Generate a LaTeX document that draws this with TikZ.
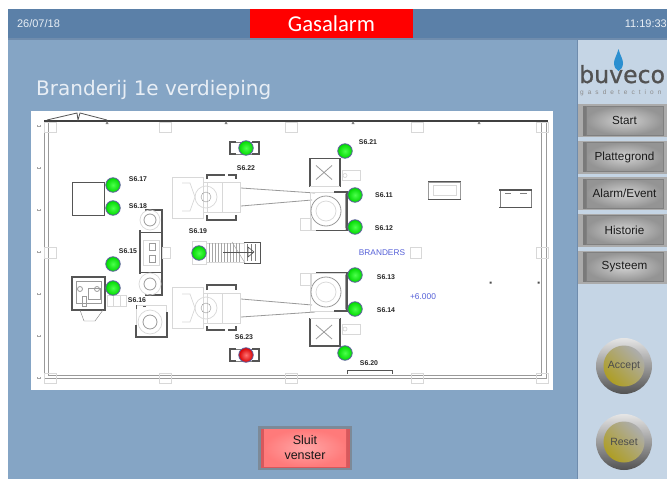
\documentclass[tikz,border=0pt]{standalone}
\usepackage{fontspec}
\setmainfont{Liberation Sans}
\newfontfamily\titlefont{DejaVu Sans}
\newfontfamily\alarmfont{Carlito}
\newfontfamily\logofont[FakeBold=0.8]{DejaVu Sans}
\usepackage{xcolor}
\usetikzlibrary{shapes,arrows,positioning}

\definecolor{screenblue}{HTML}{85A5C5}
\definecolor{headerblue}{HTML}{5B80A8}
\definecolor{headerline}{HTML}{6F8CAD}
\definecolor{panelblue}{HTML}{C5D5E5}
\definecolor{planblue}{HTML}{5560D8}
\definecolor{wallgrey}{HTML}{9A9A9A}
\definecolor{lightgrey}{HTML}{D8D8D8}
\definecolor{darkgrey}{HTML}{555555}
\definecolor{olive}{HTML}{AE9E24}
\definecolor{screentext}{HTML}{E8EEF5}
\definecolor{dropblue}{HTML}{2B8FD0}
\definecolor{closeframe}{HTML}{7C8A98}
\definecolor{closeband}{HTML}{D8585C}

\tikzset{
  menubtn/.style={draw=black!50, line width=1pt, inner color=black!18, outer color=black!42,
    minimum width=77pt, minimum height=29pt, inner sep=0pt, text=black!90,
    font=\fontsize{11.7}{13}\selectfont},
  roundbtn/.style={circle, minimum size=56pt, inner sep=0pt, top color=black!10, middle color=black!30, bottom color=black!68},
  olivebtn/.style={circle, minimum size=41pt, inner sep=0pt, left color=olive, right color=black!32,
    shading angle=135, text=black!70, font=\fontsize{10.5}{12}\selectfont},
  sensor/.style={circle, minimum size=14.5pt, inner sep=0pt, draw=blue!25!gray, line width=.8pt,
    inner color=green!70!white, outer color=green!85!black},
  alarmsensor/.style={sensor, inner color=red!55!white, outer color=red!85!black},
  tag/.style={font=\bfseries\fontsize{6.9}{8}\selectfont, text=black!85},
  wall/.style={draw=wallgrey, line width=.8pt},
  dark/.style={draw=darkgrey, line width=1.2pt},
  faint/.style={draw=lightgrey, line width=.7pt},
}

\begin{document}
\begin{tikzpicture}[x=1pt, y=-1pt]
\useasboundingbox (0,0) rectangle (667,479);
\fill[white] (0,0) rectangle (667,479);

% screen
\fill[screenblue] (8,9) rectangle (667,479);
\fill[headerblue] (8,9) rectangle (667,38);
\fill[headerline] (8,38) rectangle (667,40);
\fill[panelblue] (577,40) rectangle (667,479);
\draw[headerline] (577,40) -- (577,479);
\fill[red] (250,9) rectangle (413,38);

\node (date) [text=screentext, font=\fontsize{11}{13}\selectfont] at (38.5,24) {26/07/18};
\node (alarm) [text=white, font=\alarmfont\fontsize{22.7}{26}\selectfont] at (331.5,23.5) {Gasalarm};
\node (clock) [text=screentext, font=\fontsize{11}{13}\selectfont, anchor=east, inner xsep=0pt] at (667,24) {11:19:33};
\node (title) [text=screentext, font=\titlefont\fontsize{20}{24}\selectfont, anchor=west, inner xsep=0pt] at (36,89.5) {Branderij 1e verdieping};

% logo
\fill[dropblue] (618.5,49) .. controls (617,55) and (614,59) .. (614,63) .. controls (614,67) and (616,70) .. (618.5,71) .. controls (621,70) and (623,67) .. (623,63) .. controls (623,59) and (620,55) .. (618.5,49);
\node (logo) [text=black!68, font=\logofont\fontsize{23.6}{26}\selectfont, anchor=base west, inner sep=0pt] at (579,83) {buveco};
\node (logosub) [text=black!45, font=\addfontfeatures{LetterSpace=62}\fontsize{6.5}{7}\selectfont, anchor=base west, inner sep=0pt] at (580,94.5) {gasdetection};

% menu
\foreach \name/\py/\txt in {start/120.5/Start, plan/157/Plattegrond, event/193.5/Alarm\slash Event, hist/230/Historie, sys/267/Systeem} {
  \fill[black!33] (578,\py-16.5) rectangle (667,\py+16.5);
  \fill[black!52] (583,\py-15) rectangle (586,\py+15);
  \node (\name) [menubtn] at (624.5,\py) {\txt};
}

% round buttons
\node (acceptring) [roundbtn] at (624,366) {};
\node (accept) [olivebtn] at (624,366) {Accept};
\node (resetring) [roundbtn] at (624,442) {};
\node (reset) [olivebtn] at (624,442) {Reset};

% close button
\fill[closeframe] (258,426) rectangle (352,470);
\fill[closeband] (260.5,428.5) rectangle (349.5,467.5);
\node (sluit) [inner color=red!35!white, outer color=red!52!white, minimum width=82pt, minimum height=37pt, align=center, inner sep=0pt,
  text=black!90, font=\fontsize{12.5}{15}\selectfont] at (305,448) {Sluit\\venster};

% plan
\fill[white] (31,111) rectangle (553,390);
\draw[wall] (44,122) -- (44,378) -- (546,378) -- (546,122);
\draw[wall] (48,122) -- (48,375) -- (541,375) -- (541,122);
\draw[black!75, line width=1.2pt] (44,121) -- (548,121);
\draw[darkgrey, line width=.8pt] (47,120) -- (77,113) -- (78,120) -- (80,113) -- (107,120);

\foreach \px in {50,165,291,417,542} {
  \draw[faint] (\px-6,122) rectangle (\px+6,132);
  \draw[faint] (\px-6,373) rectangle (\px+6,383);
}
\draw[faint] (44,247) rectangle (56,258);
\draw[faint] (536,247) rectangle (548,258);
\foreach \py in {126,168,210,252,294,336,378} {
  \draw[gray!70] (37,\py-1) -- (37,\py+1) (40,\py-1) -- (40,\py+1) (37,\py) -- (40,\py);
}
\foreach \px in {107,226,353,479} {
  \fill[gray] (\px-1.5,124) -- (\px+1.5,124) -- (\px,121) -- cycle;
}

% burners
\foreach \by/\ys in {197/1,308/-1} {
  \begin{scope}[shift={(0,\by)}, yscale=\ys]
    \draw[faint] (172,-20) rectangle (203,21);
    \draw[faint] (203,-15) rectangle (240,15);
    \draw[faint] (207,-15) -- (207,15) (222,-15) -- (222,15);
    \draw[faint] (206,0) circle (11);
    \draw[lightgrey!70!black] (206,0) circle (5);
    \draw[faint] (182,-14) -- (190,-14) -- (195,0) -- (190,14) -- (182,14);
    \draw[dark] (207,-18) -- (207,-22) -- (225,-22) (228,-22) -- (236,-22) -- (236,-18);
    \draw[dark] (207,18) -- (207,23) -- (236,23) -- (236,18);
    \draw[wall] (241,-9) -- (315,-4);
    \draw[wall] (241,9) -- (312,3);
  \end{scope}
}

% fans and units
\foreach \fy/\ys in {211/1,292/-1} {
  \begin{scope}[shift={(0,\fy)}, yscale=\ys]
    \draw[faint] (300,7) rectangle (311,19);
    \draw[faint] (310,-19) rectangle (345,19);
    \draw[dark] (316,19.5) -- (347,19.5) -- (347,-19) -- (334,-19);
    \draw[wall] (345,-17) -- (345,17);
    \draw[wall] (326,0) circle (15);
    \draw[faint] (326,0) circle (10);
  \end{scope}
}
\foreach \uy/\ys in {172.5/1,332/-1} {
  \begin{scope}[shift={(0,\uy)}, yscale=\ys]
    \draw[darkgrey, line width=1.1pt] (310,14) -- (310,-14) -- (340,-14) -- (340,14);
    \draw[wall] (316,-7) -- (332,7) (316,7) -- (332,-7);
    \draw[faint] (310,14) -- (340,14);
    \draw[faint] (342,-2) rectangle (360,8);
    \draw[faint] (345,3) circle (2);
  \end{scope}
}

% left machines
\draw[darkgrey, line width=.9pt] (72,182) rectangle (104,215);
\draw[dark] (72,277) rectangle (105,310);
\draw[wall] (76,281) rectangle (101,303) (88,288) rectangle (100,299);
\draw[wall] (80,289) circle (2.5) (97,289) circle (2.5);
\draw[wall] (82,296) rectangle (86,306);
\draw[gray] (80,310) -- (84,321) -- (95,321) -- (103,310);
\draw[faint] (107,295) rectangle (126,306) (113,295) -- (113,306) (120,295) -- (120,306);

% rack
\draw[dark] (145,210) -- (162,210) -- (162,295) -- (145,295);
\draw[dark] (140,230) -- (140,274);
\draw[darkgrey, line width=.8pt] (140,232) -- (162,232) (140,272) -- (162,272);
\draw[faint] (150,220) circle (10) (150,284) circle (11);
\draw[wall] (150,220) circle (6) (150,284) circle (6);
\draw[faint] (143,240) rectangle (159,265);
\draw[wall] (149,243) rectangle (155,250) (149,255) rectangle (155,262);
\draw[faint] (162,247) rectangle (170,258);

% lower fan
\draw[faint] (136,305) rectangle (166,336);
\draw[dark] (136,325) -- (136,337) -- (167,337) -- (167,312);
\draw[faint] (150,322) circle (12);
\draw[wall] (150,322) circle (7);
\draw[darkgrey] (136,305) -- (136,309) (143,306) -- (146,306);

% stairs
\draw[faint] (192,241) rectangle (206,264);
\draw[faint] (206,243) rectangle (244,262);
\foreach \px in {209,212,...,239} {
  \draw[gray!70, line width=.5pt] (\px,243) -- (\px,262);
}
\draw[gray!70, line width=.5pt] (232,242) -- (245,263);
\draw[darkgrey, line width=.9pt] (244,242) -- (260,242) -- (260,263) -- (244,263);
\draw[gray, line width=.5pt] (247,244) -- (247,261) (251,244) -- (251,261) (255,244) -- (255,261);
\draw[darkgrey, line width=.6pt] (223,252) -- (253,252);
\draw[darkgrey, line width=.6pt] (248,247) -- (254,252) -- (248,257) -- cycle;

% holders
\foreach \hy in {148,355} {
  \draw[gray, line width=.6pt] (230,\hy-6) rectangle (259,\hy+6);
  \draw[dark] (236,\hy-6) -- (230,\hy-6) -- (230,\hy+6) -- (236,\hy+6);
  \draw[dark] (252,\hy-6) -- (259,\hy-6) -- (259,\hy+6) -- (252,\hy+6);
}

% right units
\draw[wall] (428,182) rectangle (460,199);
\draw[darkgrey, line width=.9pt] (428,181) -- (461,181) (428,199) -- (461,199);
\draw[faint] (433,185) rectangle (456,195);
\draw[gray] (500,190) rectangle (531,207);
\draw[darkgrey, line width=1.1pt] (499,190) -- (532,190) (499,207.5) -- (532,207.5);
\draw[gray] (505,193) -- (511,193) (520,193) -- (527,193);
\draw[darkgrey, line width=.7pt] (347,374) -- (347,370.5) -- (392,370.5) -- (392,374);
\fill[black!70] (489.5,281.5) rectangle (491.5,283.5) (537.5,281.5) rectangle (539.5,283.5);

% sensors
\foreach \name/\px/\py in {s622/246/148, s617/113/185, s618/113/208, s621/345/151, s611/355/195, s612/355/227, s619/199/253, s615/113/264, s616/113/288, s613/355/275, s614/355/309, s620/345/353} {
  \node (\name) [sensor] at (\px,\py) {};
}
\node (s623) [alarmsensor] at (246,355) {};

% labels
\foreach \name/\px/\py/\txt in {l622/246/168/S6.22, l617/138/179/S6.17, l618/138/206/S6.18, l621/368/142/S6.21, l611/384/195/S6.11, l612/384/228/S6.12, l619/198/231/S6.19, l615/128/251/S6.15, l616/137/300/S6.16, l613/386/277/S6.13, l614/386/310/S6.14, l620/369/363/S6.20, l623/244/337/S6.23} {
  \node (\name) [tag] at (\px,\py) {\txt};
}
\node (branders) [text=planblue, font=\fontsize{8.3}{10}\selectfont] at (382,253) {BRANDERS};
\node (brandbox) [draw=lightgrey, line width=1pt, minimum size=11pt, inner sep=0pt] at (416,253) {};
\node (level) [text=planblue, font=\fontsize{8.4}{10}\selectfont] at (423,297) {+6.000};
\end{tikzpicture}
\end{document}
